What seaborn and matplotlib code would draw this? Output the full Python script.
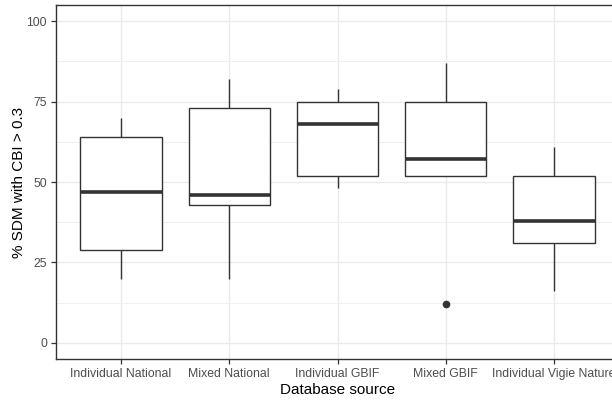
import matplotlib
matplotlib.use("Agg")
import matplotlib.pyplot as plt
import seaborn as sns
import pandas as pd
from matplotlib.ticker import MultipleLocator

# Percentage of SDMs reaching CBI > 0.3, by database source
sources = ["Individual National", "Mixed National", "Individual GBIF",
           "Mixed GBIF", "Individual Vigie Nature"]
individual_national = [20, 29, 47, 64, 70]
mixed_national = [20, 43, 46, 73, 82]
individual_gbif = [48, 52, 68, 75, 79]
mixed_gbif = [12, 52, 57, 75, 87]
individual_vigie = [16, 31, 38, 52, 61]
y_ticks = [0, 25, 50, 75, 100]

groups = [individual_national, mixed_national, individual_gbif,
          mixed_gbif, individual_vigie]
df = pd.DataFrame({
    "source": [s for s, g in zip(sources, groups) for _ in g],
    "pct": [v for g in groups for v in g],
})

sns.set_theme(style="white")
plt.rcParams["font.family"] = ["Liberation Sans", "DejaVu Sans"]

fig = plt.figure(figsize=(6.12, 4.0), dpi=100)
ax = fig.add_axes([56 / 612, 41 / 400, 563 / 612, 354 / 400])

dark = "#333333"
sns.boxplot(
    data=df, x="source", y="pct", order=sources, ax=ax,
    width=0.75, color="white", linecolor=dark, linewidth=1.0,
    showcaps=False, whis=1.5,
    medianprops=dict(linewidth=2.6, color=dark, solid_capstyle="butt"),
    flierprops=dict(marker="o", markersize=4.5, markerfacecolor=dark,
                    markeredgecolor=dark),
)
for p in ax.patches:
    p.set_zorder(2)
for l in ax.lines:
    l.set_zorder(3)

ax.set_xlim(-0.6, 4.6)
ax.set_ylim(-5, 105)
ax.set_yticks(y_ticks)
ax.yaxis.set_minor_locator(MultipleLocator(12.5))

ax.grid(True, which="major", color="#ebebeb", linewidth=1.0, zorder=0)
ax.grid(True, which="minor", axis="y", color="#f0f0f0", linewidth=0.7, zorder=0)
ax.set_axisbelow(True)

for s in ax.spines.values():
    s.set_color(dark)
    s.set_linewidth(1.0)
    s.set_visible(True)

ax.tick_params(axis="both", which="major", length=3.5, width=0.9,
               color=dark, labelsize=8.8, labelcolor="#4d4d4d", pad=3,
               bottom=True, left=True)
ax.tick_params(axis="both", which="minor", length=0)

ax.set_xlabel("Database source", fontsize=11, color="black", labelpad=2)
ax.set_ylabel("% SDM with CBI > 0.3", fontsize=11, color="black", labelpad=0)

fig.savefig("out.png", dpi=100, facecolor="white")
